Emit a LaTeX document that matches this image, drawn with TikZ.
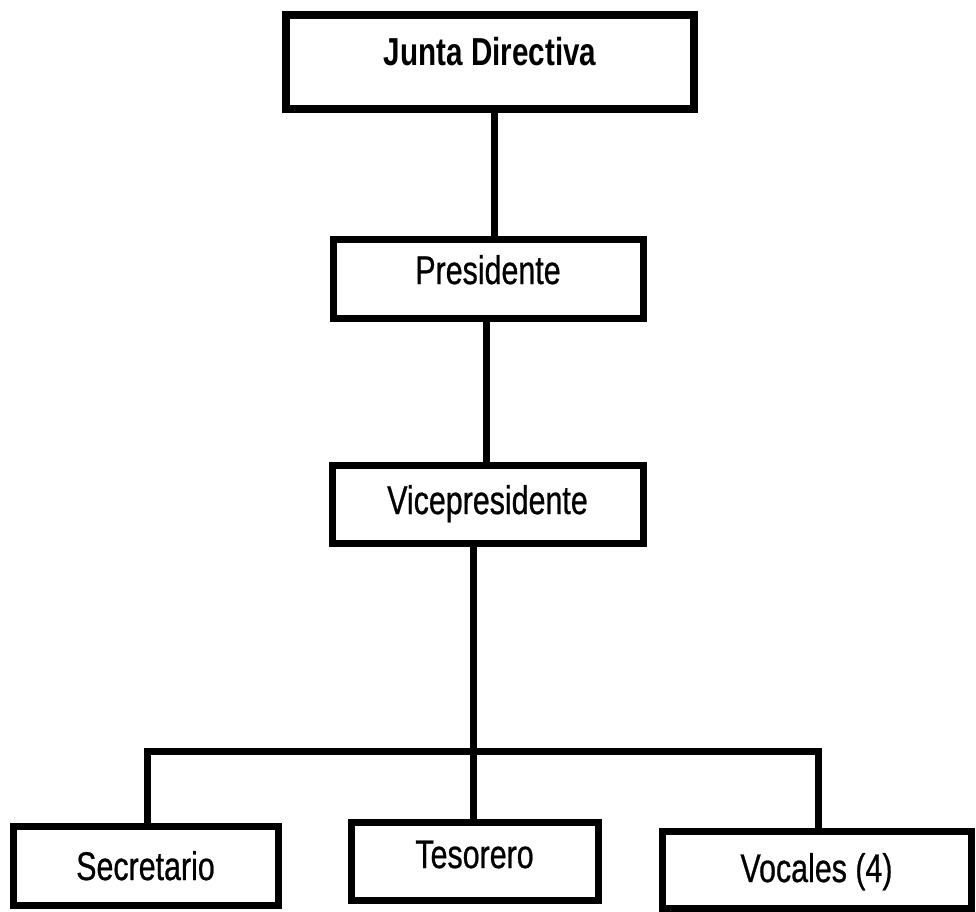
\documentclass[tikz,border=0pt]{standalone}
\usepackage{fontspec}
\setmainfont[FakeStretch=0.76,UprightFeatures={FakeBold=0.6}]{Liberation Sans}
\begin{document}
\begin{tikzpicture}[x=1pt,y=-1pt,
  box/.style={draw=black, line width=7pt, rectangle, inner sep=0pt, text depth=0pt,
    font=\fontsize{40}{42}\selectfont},
  conn/.style={draw=black, line width=7pt}]
\useasboundingbox[fill=white] (0,0) rectangle (976,911);
% boxes
\node[box, line width=8pt, minimum width=408pt, minimum height=94pt, text height=6pt,
  font=\fontsize{39}{42}\selectfont\bfseries] (jd) at (490,62) {Junta Directiva};
\node[box, minimum width=310pt, minimum height=79pt, text height=11pt] (pr) at (488,278.5) {Presidente};
\node[box, minimum width=311pt, minimum height=78pt, text height=20pt] (vp) at (487.5,504) {Vicepresidente};
\node[box, minimum width=265pt, minimum height=79pt, text height=29pt] (sc) at (145.5,865.5) {Secretario};
\node[box, minimum width=247pt, minimum height=78pt, text height=14pt] (ts) at (474.5,861) {Tesorero};
\node[box, minimum width=309pt, minimum height=77pt, text height=25pt] (vc) at (816.5,869.5) {Vocales (4)};
% connectors
\draw[conn] ([xshift=4pt]jd.south) -- ([xshift=6pt]pr.north);
\draw[conn] ([xshift=-2pt]pr.south) -- ([xshift=-1.5pt]vp.north);
\draw[conn] ([xshift=-14.5pt]vp.south) -- ([xshift=-1.5pt]ts.north);
\coordinate (bl) at (147,751);
\coordinate (br) at (818,751);
\draw[conn] (sc.north -| bl) -- (bl) -- (br) -- (vc.north -| br);
\end{tikzpicture}
\end{document}
